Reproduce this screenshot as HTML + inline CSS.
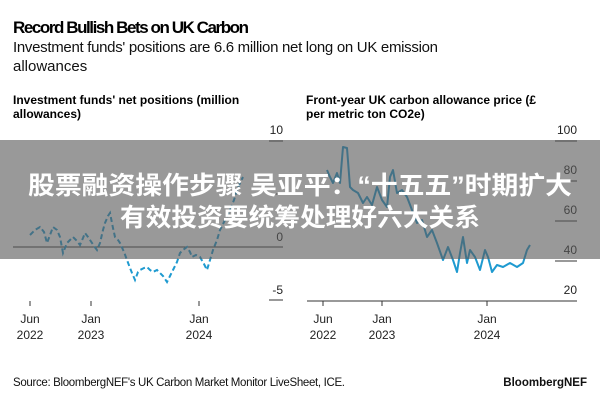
<!DOCTYPE html>
<html><head><meta charset="utf-8"><style>
html,body{margin:0;padding:0;background:#fff;width:600px;height:400px;overflow:hidden}
svg{display:block;font-family:"Liberation Sans",Arial,sans-serif}
</style></head><body>
<svg width="600" height="400" viewBox="0 0 600 400" xmlns="http://www.w3.org/2000/svg">
<rect width="600" height="400" fill="#fff"/>
<text x="13" y="33" font-size="17" font-weight="bold" fill="#000" textLength="236">Record Bullish Bets on UK Carbon</text>
<text x="13" y="52" font-size="15" fill="#111" textLength="425">Investment funds' positions are 6.6 million net long on UK emission</text>
<text x="13" y="71" font-size="15" fill="#111">allowances</text>

<text x="13" y="104" font-size="12" font-weight="bold" fill="#000">Investment funds' net positions (million</text>
<text x="13" y="118" font-size="12" font-weight="bold" fill="#000">allowances)</text>
<text x="306" y="104" font-size="12" font-weight="bold" fill="#000">Front-year UK carbon allowance price (£</text>
<text x="306" y="118" font-size="12" font-weight="bold" fill="#000">per metric ton CO2e)</text>

<g font-size="12" fill="#222" text-anchor="end">
<text x="283" y="134">10</text><text x="283" y="241">0</text><text x="283" y="294">-5</text>
</g>
<g stroke="#333" stroke-width="1">
<line x1="269" y1="141" x2="283" y2="141"/><line x1="269" y1="194" x2="283" y2="194"/>
<line x1="13" y1="247" x2="283" y2="247"/><line x1="269" y1="300" x2="283" y2="300"/>
<line x1="30" y1="301" x2="30" y2="306"/><line x1="91" y1="301" x2="91" y2="306"/><line x1="199" y1="301" x2="199" y2="306"/>
</g>
<polyline fill="none" stroke="#1e9ad0" stroke-width="2" stroke-dasharray="5,3" points="30,235 35,230 40,227 44,232 47,243 50,235 53,227 57,230 60,237 63,253 67,243 70,240 73,237 77,241 80,245 83,238 85,233 88,237 90,240 94,246 97,250 100,243 103,230 105,223 108,216 110,213 113,228 115,237 118,240 120,243 124,252 127,260 130,268 132,273 135,280 138,272 140,270 144,268 147,267 150,270 153,272 157,270 160,273 163,276 167,282 170,276 173,270 177,262 180,253 183,250 187,247 190,252 192,257 196,255 200,257 204,264 207,270 210,260 213,250 217,240 220,230 225,220 230,210 234,200 237,190 240,183 243,177"/>
<g font-size="12" fill="#222" text-anchor="middle">
<text x="30" y="323">Jun</text><text x="30" y="339">2022</text>
<text x="91" y="323">Jan</text><text x="91" y="339">2023</text>
<text x="199" y="323">Jan</text><text x="199" y="339">2024</text>
</g>

<g font-size="12" fill="#222" text-anchor="end">
<text x="577" y="134">100</text><text x="577" y="174">80</text><text x="577" y="214">60</text><text x="577" y="254">40</text><text x="577" y="294">20</text>
</g>
<g stroke="#333" stroke-width="1">
<line x1="555" y1="141" x2="577" y2="141"/><line x1="555" y1="181" x2="577" y2="181"/>
<line x1="555" y1="221" x2="577" y2="221"/><line x1="555" y1="261" x2="577" y2="261"/>
<line x1="307" y1="301" x2="577" y2="301"/>
<line x1="323" y1="301" x2="323" y2="306"/><line x1="382" y1="301" x2="382" y2="306"/><line x1="487" y1="301" x2="487" y2="306"/>
</g>
<polyline fill="none" stroke="#1e9ad0" stroke-width="2" stroke-linejoin="round" points="327,170 330,177 333,183 337,173 340,183 343,147 347,148 350,187 353,190 358,193 363,203 367,197 372,205 377,187 382,200 387,207 390,177 393,170 397,193 402,190 407,197 412,210 417,223 422,220 427,237 432,230 437,243 443,260 448,247 453,260 457,272 460,253 463,237 467,263 470,250 475,257 480,270 485,250 488,257 492,272 497,265 503,267 510,263 517,267 523,263 527,250 530,245"/>
<g font-size="12" fill="#222" text-anchor="middle">
<text x="323" y="323">Jun</text><text x="323" y="339">2022</text>
<text x="382" y="323">Jan</text><text x="382" y="339">2023</text>
<text x="487" y="323">Jan</text><text x="487" y="339">2024</text>
</g>

<rect x="0" y="140" width="600" height="119" fill="#5a5a5a" fill-opacity="0.62"/>
<g font-family="'Liberation Sans','Noto Sans CJK SC',sans-serif" font-size="25" font-weight="bold" fill="#fff">
<text x="28" y="194" textLength="544" lengthAdjust="spacingAndGlyphs">股票融资操作步骤 吴亚平：“十五五”时期扩大</text>
<text x="120" y="226" textLength="360" lengthAdjust="spacingAndGlyphs">有效投资要统筹处理好六大关系</text>
</g>

<text x="13" y="386" font-size="11.5" fill="#111" textLength="332">Source: BloombergNEF's UK Carbon Market Monitor LiveSheet, ICE.</text>
<text x="587" y="386" font-size="11.5" font-weight="bold" fill="#111" text-anchor="end">BloombergNEF</text>
</svg>
</body></html>
